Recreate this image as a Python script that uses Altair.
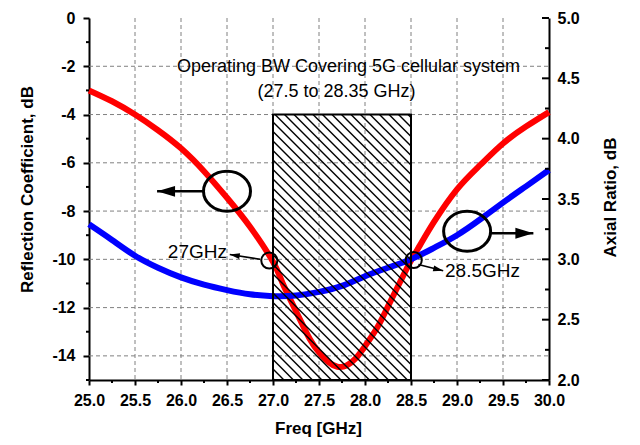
import altair as alt
import pandas as pd
import numpy as np

# ---------------- data ----------------
rc_freq = [25.0, 25.25, 25.5, 25.75, 26.0, 26.25, 26.5, 26.75, 27.0, 27.1, 27.25, 27.4,
           27.5, 27.6, 27.7, 27.8, 27.9, 28.0, 28.13, 28.25, 28.38, 28.5, 28.6, 28.75,
           29.0, 29.25, 29.5, 29.75, 30.0]
rc_db = [-3.0, -3.45, -4.0, -4.65, -5.4, -6.35, -7.45, -8.65, -10.1, -10.95, -12.15, -13.3,
         -13.85, -14.25, -14.45, -14.4, -14.1, -13.6, -12.85, -11.95, -10.95, -10.05, -9.4, -8.45,
         -7.1, -6.1, -5.2, -4.5, -3.9]

ar_freq = [25.0, 25.25, 25.5, 25.75, 26.0, 26.25, 26.5, 26.75, 27.0, 27.25, 27.5, 27.75,
           28.0, 28.25, 28.5, 28.75, 29.0, 29.25, 29.5, 29.75, 30.0]
ar_db = [3.29, 3.16, 3.03, 2.93, 2.85, 2.79, 2.745, 2.71, 2.695, 2.70, 2.73, 2.78,
         2.86, 2.93, 3.0, 3.095, 3.2, 3.33, 3.47, 3.605, 3.74]

x_ticks = [25.0, 25.5, 26.0, 26.5, 27.0, 27.5, 28.0, 28.5, 29.0, 29.5, 30.0]
x_minor = [25.25, 25.75, 26.25, 26.75, 27.25, 27.75, 28.25, 28.75, 29.25, 29.75]
x_grid = [25.5, 26.0, 26.5, 27.0, 27.5, 28.0, 28.5, 29.0, 29.5]
left_ticks = [0, -2, -4, -6, -8, -10, -12, -14]
left_minor = [-1, -3, -5, -7, -9, -11, -13, -15]
left_grid = [-2, -4, -6, -8, -10, -12, -14]
right_ticks = [2.0, 2.5, 3.0, 3.5, 4.0, 4.5, 5.0]
right_minor = [2.25, 2.75, 3.25, 3.75, 4.25, 4.75]

band_x = [27.0, 28.5]
band_y = [-15.0, -4.0]

title_lines = ["Operating BW Covering 5G cellular system", "(27.5 to 28.35 GHz)"]
title_x = [27.82, 27.69]
title_y = [-2.05, -3.05]

ellipse_x = [26.50, 29.11]
ellipse_y = [-7.18, -8.84]
big_arrow_x0 = [26.25, 29.37]
big_arrow_x1 = [25.74, 29.83]
big_arrow_y = [-7.18, -8.92]
big_arrow_dir = ["left", "right"]

marker_x = [26.96, 28.53]
marker_y = [-10.05, -10.03]
marker_labels = ["27GHz", "28.5GHz"]
label_x = [26.50, 28.87]
label_y = [-9.69, -10.49]
small_arrow_x0 = [26.86, 28.58]
small_arrow_y0 = [-10.0, -10.21]
small_arrow_x1 = [26.53, 28.85]
small_arrow_y1 = [-9.80, -10.47]
small_arrow_dir = ["left", "right"]
small_arrow_angle = [9.5, 13.5]

# ---------------- layout / style ----------------
W, H = 460, 362
X_DOM = [25.0, 30.0]
YL_DOM = [-15.0, 0.0]
YR_DOM = [2.0, 5.0]
FONT = "Liberation Sans"

x_scale = alt.Scale(domain=X_DOM, nice=False, zero=False)
yl_scale = alt.Scale(domain=YL_DOM, nice=False, zero=False)
yr_scale = alt.Scale(domain=YR_DOM, nice=False, zero=False)

HEAD_LEFT = "M0,0 L2,-0.6 L2,0.6 Z"
HEAD_RIGHT = "M0,0 L-2,-0.6 L-2,0.6 Z"
ELLIPSE = ("M-1,0 C-1,-0.47 -0.55,-0.85 0,-0.85 C0.55,-0.85 1,-0.47 1,0 "
           "C1,0.47 0.55,0.85 0,0.85 C-0.55,0.85 -1,0.47 -1,0 Z")

df_rc = pd.DataFrame({"f": rc_freq, "v": rc_db})
df_ar = pd.DataFrame({"f": ar_freq, "v": ar_db})

x_axis = alt.Axis(values=x_ticks, format=".1f", tickSize=5, labelPadding=7, grid=False,
                  labelFlush=False, labelOverlap=False, title="Freq [GHz]",
                  titleX=229, titleY=48, titleBaseline="middle", titleAlign="center")
left_axis = alt.Axis(orient="left", values=left_ticks, labelExpr="'' + datum.value",
                     tickSize=6, labelPadding=8, labelOverlap=False, grid=False,
                     title="Reflection Coefficient, dB", titleAngle=270, titleX=-62, titleY=171,
                     titleBaseline="middle", titleAlign="center")
right_axis = alt.Axis(orient="right", values=right_ticks, format=".1f", ticks=False,
                      labelPadding=8, labelOverlap=False, grid=False,
                      title="Axial Ratio, dB", titleAngle=270, titleX=61, titleY=179,
                      titleBaseline="middle", titleAlign="center")

# every layer sharing a scale gets the same axis definition
X = lambda f: alt.X(f, scale=x_scale, axis=x_axis)
YL = lambda f: alt.Y(f, scale=yl_scale, axis=left_axis)
YR = lambda f: alt.Y(f, scale=yr_scale, axis=right_axis)
Y = lambda f: alt.Y(f, scale=yl_scale, axis=None)   # overlay group: no axis of its own

# group 1: grid + reflection coefficient (left axis)
gx = alt.Chart(pd.DataFrame({"f": x_grid})).mark_rule(
    color="#808080", strokeWidth=1, strokeDash=[4, 3]).encode(
    x=X("f:Q"), y=alt.value(0), y2=alt.value(H))
gy = alt.Chart(pd.DataFrame({"v": left_grid})).mark_rule(
    color="#808080", strokeWidth=1, strokeDash=[4, 3]).encode(
    y=YL("v:Q"), x=alt.value(0), x2=alt.value(W))
red = alt.Chart(df_rc).mark_line(color="#FF0000", strokeWidth=6, interpolate="natural").encode(
    x=X("f:Q"), y=YL("v:Q"))
lm = alt.Chart(pd.DataFrame({"v": left_minor})).mark_rule(color="black", strokeWidth=2).encode(
    y=YL("v:Q"), x=alt.value(-3), x2=alt.value(0))
g1 = alt.layer(gx, gy, red, lm)

# group 2: axial ratio (right axis)
blue = alt.Chart(df_ar).mark_line(color="#0000FF", strokeWidth=6, interpolate="natural").encode(
    x=X("f:Q"), y=YR("v:Q"))
rt_major = alt.Chart(pd.DataFrame({"v": right_ticks})).mark_rule(color="black", strokeWidth=2).encode(
    y=YR("v:Q"), x=alt.value(W - 7), x2=alt.value(W))
rt_minor = alt.Chart(pd.DataFrame({"v": right_minor})).mark_rule(color="black", strokeWidth=2).encode(
    y=YR("v:Q"), x=alt.value(W - 4), x2=alt.value(W))
g2 = alt.layer(blue, rt_major, rt_minor)

# group 3: overlays in left-axis units
sx = W / (X_DOM[1] - X_DOM[0])
sy = H / (YL_DOM[1] - YL_DOM[0])
px0, px1 = (band_x[0] - X_DOM[0]) * sx, (band_x[1] - X_DOM[0]) * sx
py_top, py_bot = (YL_DOM[1] - band_y[1]) * sy, (YL_DOM[1] - band_y[0]) * sy
step = 9.5
segs = []
c = py_top - px1 + 3
while c < py_bot - px0:
    a = max(px0, py_top - c)
    b = min(px1, py_bot - c)
    if b > a:
        segs.append({"x0": X_DOM[0] + a / sx, "y0": YL_DOM[1] - (a + c) / sy,
                     "x1": X_DOM[0] + b / sx, "y1": YL_DOM[1] - (b + c) / sy})
    c += step
df_hatch = pd.DataFrame(segs)

hatch = alt.Chart(df_hatch).mark_rule(color="black", strokeWidth=1.4).encode(
    x=X("x0:Q"), y=Y("y0:Q"), x2="x1:Q", y2="y1:Q")
band = alt.Chart(pd.DataFrame({"x0": [band_x[0]], "x1": [band_x[1]],
                               "y0": [band_y[0]], "y1": [band_y[1]]})).mark_rect(
    fillOpacity=0, stroke="black", strokeWidth=2).encode(
    x=X("x0:Q"), x2="x1:Q", y=Y("y0:Q"), y2="y1:Q")

bm = alt.Chart(pd.DataFrame({"f": x_minor})).mark_rule(color="black", strokeWidth=2).encode(
    x=X("f:Q"), y=alt.value(H), y2=alt.value(H + 3))

df_title = pd.DataFrame({"t": title_lines, "x": title_x, "y": title_y})
title_txt = alt.Chart(df_title).mark_text(font=FONT, fontSize=18, color="black",
                                          align="center", baseline="middle").encode(
    x=X("x:Q"), y=Y("y:Q"), text="t:N")

df_ell = pd.DataFrame({"x": ellipse_x, "y": ellipse_y})
ellipses = alt.Chart(df_ell).mark_point(shape=ELLIPSE, size=47 * 47, filled=False,
                                        stroke="black", strokeWidth=3, opacity=1).encode(
    x=X("x:Q"), y=Y("y:Q"))

df_ba = pd.DataFrame({"x0": big_arrow_x0, "x1": big_arrow_x1, "y": big_arrow_y,
                      "shape": [HEAD_LEFT if d == "left" else HEAD_RIGHT for d in big_arrow_dir]})
ba_shaft = alt.Chart(df_ba).mark_rule(color="black", strokeWidth=2.5).encode(
    x=X("x0:Q"), x2="x1:Q", y=Y("y:Q"))
ba_head = alt.Chart(df_ba).mark_point(size=18 * 18, filled=True, color="black", opacity=1).encode(
    x=X("x1:Q"), y=Y("y:Q"), shape=alt.Shape("shape:N", scale=None))

df_mk = pd.DataFrame({"x": marker_x, "y": marker_y})
markers = alt.Chart(df_mk).mark_point(shape="circle", size=260, filled=False, stroke="black",
                                      strokeWidth=2, opacity=1).encode(x=X("x:Q"), y=Y("y:Q"))

df_sa = pd.DataFrame({"x0": small_arrow_x0, "y0": small_arrow_y0,
                      "x1": small_arrow_x1, "y1": small_arrow_y1, "ang": small_arrow_angle,
                      "shape": [HEAD_LEFT if d == "left" else HEAD_RIGHT for d in small_arrow_dir]})
sa_shaft = alt.Chart(df_sa).mark_rule(color="black", strokeWidth=1.6).encode(
    x=X("x0:Q"), y=Y("y0:Q"), x2="x1:Q", y2="y1:Q")
sa_head = alt.Chart(df_sa).mark_point(size=100, filled=True, color="black", opacity=1).encode(
    x=X("x1:Q"), y=Y("y1:Q"), shape=alt.Shape("shape:N", scale=None),
    angle=alt.Angle("ang:Q", scale=None))

df_lab = pd.DataFrame({"t": marker_labels, "x": label_x, "y": label_y})
lab_left = alt.Chart(df_lab.iloc[[0]]).mark_text(font=FONT, fontSize=19, color="black",
                                                 align="right", baseline="middle").encode(
    x=X("x:Q"), y=Y("y:Q"), text="t:N")
lab_right = alt.Chart(df_lab.iloc[[1]]).mark_text(font=FONT, fontSize=19, color="black",
                                                  align="left", baseline="middle").encode(
    x=X("x:Q"), y=Y("y:Q"), text="t:N")

g3 = alt.layer(hatch, band, bm, title_txt, ellipses, ba_shaft, ba_head,
               markers, sa_shaft, sa_head, lab_left, lab_right)

chart = alt.layer(g1, g2, g3).resolve_scale(y="independent").properties(
    width=W, height=H, background="white",
    padding={"left": 81, "top": 10, "right": 83, "bottom": 57},
    autosize=alt.AutoSizeParams(type="none"),
).configure_view(stroke=None).configure_axis(
    labelFont=FONT, labelFontSize=16, labelFontWeight="bold", labelColor="black",
    titleFont=FONT, titleFontSize=17, titleFontWeight="bold", titleColor="black",
    domainColor="black", domainWidth=2, tickColor="black", tickWidth=2,
)

chart.save("out.html", embed_options={"renderer": "svg", "actions": False})
